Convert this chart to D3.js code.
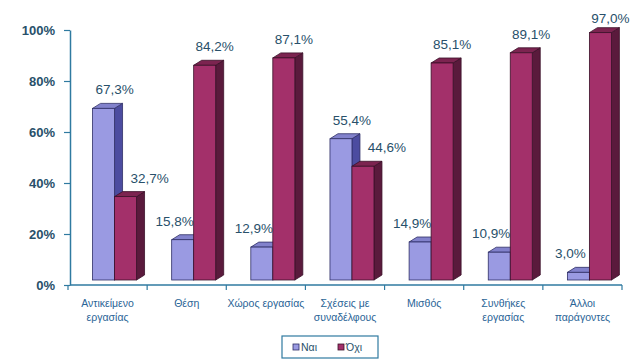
<!DOCTYPE html>
<html>
<head>
<meta charset="utf-8">
<script src="https://cdn.jsdelivr.net/npm/d3@7"></script>
<style>
  body { margin: 0; background: #fff; }
  svg { display: block; font-family: Arial, "Liberation Sans", sans-serif; }
</style>
</head>
<body>
<div id="vis"></div>
<script>
var categories = [
    ["Αντικείμενο", "εργασίας"],
    ["Θέση"],
    ["Χώρος εργασίας"],
    ["Σχέσεις με", "συναδέλφους"],
    ["Μισθός"],
    ["Συνθήκες", "εργασίας"],
    ["Άλλοι", "παράγοντες"]
];
var yes = [67.3, 15.8, 12.9, 55.4, 14.9, 10.9, 3.0];
var no = [32.7, 84.2, 87.1, 44.6, 85.1, 89.1, 97.0];
var seriesNames = ["Ναι", "Όχι"];
var yTicks = [0, 20, 40, 60, 80, 100];

function draw(width, height) {
    var svg = d3.select("#vis").append("svg")
        .attr("width", width)
        .attr("height", height);

    var axisColor = "#2f7aa0";
    var textColor = "#28506a";

    var idx = d3.range(categories.length);

    var x = d3.scaleBand()
        .domain(idx)
        .range([68, 622]);

    var y = d3.scaleLinear()
        .domain([0, 100])
        .range([285, 30]);

    var bw = x.bandwidth();
    var barW = 22;
    var depthX = 8, depthY = -5, lift = 5;

    var colors = [
        { front: "#9a9ae2", top: "#8282cc", side: "#4c4ca0", stroke: "#2e2e66" },
        { front: "#a3306a", top: "#7c2450", side: "#5a1a3c", stroke: "#3a1028" }
    ];

    // y axis
    var yAxis = d3.axisLeft(y)
        .tickValues(yTicks)
        .tickFormat(function(d) { return d + "%"; })
        .tickSize(6)
        .tickSizeOuter(0)
        .tickPadding(9);

    var gy = svg.append("g")
        .attr("transform", "translate(70,0)")
        .call(yAxis);
    gy.select(".domain").attr("stroke", axisColor).attr("stroke-width", 1.5);
    gy.selectAll(".tick line").attr("stroke", axisColor).attr("stroke-width", 1.2);
    gy.selectAll(".tick text")
        .attr("fill", textColor)
        .style("font-size", "13px")
        .style("font-weight", "bold");

    // bars
    function bar(g, x0, v, c) {
        var yb = y(0) - lift, yt = y(v) - lift;
        g.append("path")
            .attr("d", "M" + (x0 + barW) + "," + yb + "L" + (x0 + barW + depthX) + "," + (yb + depthY) +
                "L" + (x0 + barW + depthX) + "," + (yt + depthY) + "L" + (x0 + barW) + "," + yt + "Z")
            .attr("fill", c.side).attr("stroke", c.stroke).attr("stroke-width", 0.8);
        g.append("path")
            .attr("d", "M" + x0 + "," + yt + "L" + (x0 + depthX) + "," + (yt + depthY) +
                "L" + (x0 + barW + depthX) + "," + (yt + depthY) + "L" + (x0 + barW) + "," + yt + "Z")
            .attr("fill", c.top).attr("stroke", c.stroke).attr("stroke-width", 0.8);
        g.append("rect")
            .attr("x", x0).attr("y", yt)
            .attr("width", barW).attr("height", yb - yt)
            .attr("fill", c.front).attr("stroke", c.stroke).attr("stroke-width", 0.8);
    }

    var bars = svg.append("g");
    idx.forEach(function(i) {
        var x0 = x(i) + bw * 0.31;
        bar(bars, x0, yes[i], colors[0]);
        bar(bars, x0 + barW, no[i], colors[1]);
    });

    // x axis
    svg.append("line")
        .attr("x1", 70).attr("x2", 622)
        .attr("y1", y(0)).attr("y2", y(0))
        .attr("stroke", axisColor).attr("stroke-width", 1.5);
    svg.selectAll(".xtick")
        .data(idx.concat([idx.length]))
        .enter().append("line")
        .attr("x1", function(i) { return i < idx.length ? x(i) : x(i - 1) + bw; })
        .attr("x2", function(i) { return i < idx.length ? x(i) : x(i - 1) + bw; })
        .attr("y1", y(0)).attr("y2", y(0) + 5)
        .attr("stroke", axisColor).attr("stroke-width", 1.2);

    // category labels
    var cl = svg.selectAll(".cat")
        .data(idx)
        .enter().append("text")
        .attr("text-anchor", "middle")
        .attr("fill", "#2a6496")
        .style("font-size", "10.5px")
        .attr("x", function(i) { return x(i) + bw / 2; })
        .attr("y", 307);
    cl.selectAll("tspan")
        .data(function(i) { return categories[i]; })
        .enter().append("tspan")
        .attr("x", function() { return +d3.select(this.parentNode).attr("x"); })
        .attr("dy", function(d, j) { return j === 0 ? 0 : 14; })
        .text(function(d) { return d; });

    // value labels
    function fmt(v) { return v.toFixed(1).replace(".", ",") + "%"; }
    function ly(v) { return Math.max(y(v) - 19, 23); }
    idx.forEach(function(i) {
        var x0 = x(i) + bw * 0.31;
        var bx = no[i] < yes[i] ? x0 + barW : x0 + 3;
        var rx = yes[i] > no[i] ? x0 + 2 * barW + 13 : x0 + 2 * barW - 1;
        [[bx, yes[i]], [rx, no[i]]].forEach(function(p) {
            svg.append("text")
                .attr("x", p[0]).attr("y", ly(p[1]))
                .attr("text-anchor", "middle")
                .attr("fill", textColor)
                .style("font-size", "13.5px")
                .text(fmt(p[1]));
        });
    });

    // legend
    var lg = svg.append("g").attr("transform", "translate(282,336)");
    lg.append("rect")
        .attr("width", 96).attr("height", 22)
        .attr("fill", "#fff").attr("stroke", axisColor).attr("stroke-width", 1.2);
    seriesNames.forEach(function(n, k) {
        var ox = 11 + k * 45;
        lg.append("rect")
            .attr("x", ox).attr("y", 8).attr("width", 6).attr("height", 6)
            .attr("fill", colors[k].front).attr("stroke", colors[k].stroke).attr("stroke-width", 0.8);
        lg.append("text")
            .attr("x", ox + 8).attr("y", 15)
            .attr("fill", textColor)
            .style("font-size", "10.5px")
            .text(n);
    });
}

draw(642, 362);
</script>
</body>
</html>
